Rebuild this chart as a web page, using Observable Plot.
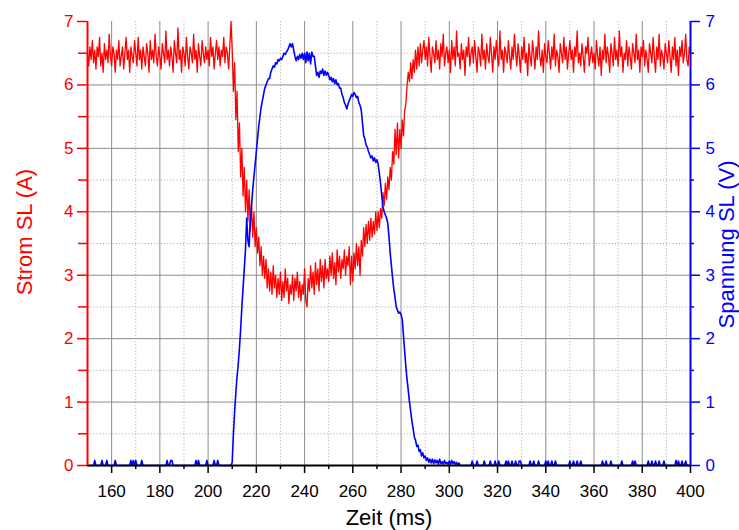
<!DOCTYPE html>
<html>
<head>
<meta charset="utf-8">
<script src="https://cdn.jsdelivr.net/npm/d3@7"></script>
<script src="https://cdn.jsdelivr.net/npm/@observablehq/plot@0.6"></script>
<style>
  html, body { margin: 0; padding: 0; background: #fff; }
  svg { display: block; }
</style>
</head>
<body>
<div id="chart"></div>
<script>
// Sampling: first sample at 150 ms, one sample every 0.5 ms
const tStart = 150;
const tStep = 0.5;

// Strom SL (A), red, one row per 10 ms
const strom = [
  6.5,6.3,6.6,6.4,6.7,6.35,6.55,6.25,6.6,6.45,6.75,6.3,6.5,6.2,6.65,6.4,6.55,6.35,6.8,6.45,
  6.3,6.6,6.5,6.2,6.55,6.4,6.7,6.3,6.45,6.6,6.25,6.5,6.75,6.4,6.55,6.2,6.6,6.45,6.35,6.7,
  6.5,6.3,6.75,6.4,6.55,6.25,6.6,6.45,6.3,6.65,6.5,6.2,6.7,6.4,6.55,6.35,6.8,6.45,6.3,6.6,
  6.45,6.25,6.65,6.5,6.35,6.85,6.4,6.55,6.3,6.6,6.45,6.2,6.7,6.5,6.35,6.9,6.4,6.55,6.2,6.6,
  6.5,6.3,6.75,6.45,6.25,6.6,6.5,6.35,6.8,6.4,6.55,6.2,6.65,6.45,6.3,6.7,6.5,6.35,6.6,6.4,
  6.55,6.3,6.75,6.45,6.6,6.25,6.5,6.7,6.4,6.6,6.3,6.55,6.45,6.75,6.35,6.6,6.5,6.25,6.6,7.0,
  6.55,5.9,6.35,5.45,5.9,4.95,5.4,4.55,5.0,4.25,4.7,4.0,4.5,3.85,4.35,3.7,4.15,3.6,4.0,3.45,
  3.75,3.35,3.6,3.15,3.45,3.0,3.3,2.95,3.25,2.8,3.1,2.75,3.05,2.7,3.15,2.8,3.0,2.65,2.95,2.7,
  3.05,2.6,2.9,2.65,3.1,2.75,2.95,2.55,2.85,2.7,3.0,2.6,2.95,2.75,3.05,2.65,2.9,2.6,2.85,2.7,
  3.1,2.6,2.5,2.95,2.75,3.15,2.8,3.05,2.7,3.2,2.85,3.1,2.75,3.25,2.9,3.15,2.8,3.25,2.95,3.1,
  2.9,3.3,3.0,3.35,2.95,3.2,2.85,3.4,3.05,3.3,2.95,3.25,3.1,3.4,3.0,3.3,3.15,3.45,2.85,3.3,
  2.9,3.35,3.1,3.5,3.15,3.45,3.0,3.55,3.3,3.75,3.45,3.8,3.5,3.85,3.55,3.9,3.6,3.85,3.65,4.0,
  3.7,4.0,3.75,4.05,3.9,4.3,4.1,4.45,4.2,4.55,4.35,4.7,4.5,4.95,4.75,5.3,4.9,5.4,4.85,5.3,
  5.0,5.45,5.2,5.6,5.7,6.0,6.2,6.05,6.35,6.1,6.4,6.2,6.55,6.25,6.6,6.3,6.65,6.35,6.55,6.7,
  6.4,6.6,6.3,6.75,6.45,6.2,6.6,6.5,6.35,6.7,6.4,6.55,6.25,6.65,6.45,6.8,6.3,6.5,6.6,6.35,
  6.55,6.2,6.7,6.4,6.6,6.3,6.85,6.45,6.5,6.25,6.65,6.4,6.55,6.15,6.6,6.45,6.75,6.3,6.5,6.6,
  6.35,6.7,6.45,6.2,6.6,6.5,6.3,6.8,6.4,6.55,6.25,6.65,6.45,6.35,6.75,6.5,6.2,6.6,6.4,6.7,
  6.45,6.3,6.85,6.4,6.55,6.2,6.6,6.5,6.35,6.7,6.45,6.25,6.6,6.4,6.8,6.5,6.3,6.65,6.45,6.2,
  6.6,6.4,6.75,6.35,6.5,6.15,6.65,6.45,6.3,6.7,6.5,6.25,6.6,6.4,6.85,6.45,6.3,6.55,6.2,6.65,
  6.45,6.35,6.7,6.5,6.25,6.6,6.4,6.8,6.3,6.55,6.45,6.2,6.65,6.5,6.35,6.75,6.4,6.6,6.25,6.5,
  6.7,6.4,6.55,6.2,6.6,6.45,6.85,6.35,6.5,6.3,6.65,6.45,6.2,6.6,6.5,6.75,6.3,6.45,6.6,6.35,
  6.5,6.25,6.7,6.45,6.3,6.6,6.15,6.55,6.4,6.8,6.35,6.6,6.45,6.2,6.65,6.5,6.3,6.75,6.4,6.55,
  6.3,6.85,6.45,6.6,6.2,6.5,6.4,6.7,6.3,6.6,6.45,6.25,6.65,6.5,6.35,6.8,6.4,6.55,6.2,6.6,
  6.45,6.7,6.3,6.55,6.4,6.2,6.65,6.5,6.35,6.75,6.45,6.2,6.6,6.4,6.8,6.3,6.55,6.45,6.25,6.65,
  6.5,6.35,6.7,6.45,6.2,6.6,6.4,6.75,6.3,6.55,6.15,6.6,6.45,6.7,6.35,6.5,6.8,6.4,6.3,6.6,
  6.5
];

// Spannung SL (V), blue, one row per 10 ms
const spannung = [
  0,0,0,0,0,0,0.08,0,0,0,0,0,0.08,0,0,0,0.08,0,0,0,
  0,0,0,0.08,0,0,0,0,0,0,0,0,0,0,0,0,0.08,0,0.08,0,
  0.08,0,0,0,0,0.08,0,0,0,0,0,0,0,0,0,0,0,0,0,0,
  0,0,0,0,0,0,0.08,0,0,0.08,0.08,0,0,0,0,0,0,0,0,0,
  0,0,0,0,0,0,0,0,0,0,0.08,0,0.08,0,0,0,0,0,0,0.08,
  0,0,0,0,0,0.08,0,0,0.08,0,0,0,0,0,0,0,0,0,0,0,
  0.05,0.5,0.85,1.15,1.4,1.6,1.85,2.15,2.5,2.8,3.1,3.4,3.9,3.55,3.45,3.85,4.1,4.35,4.55,4.75,
  4.95,5.15,5.35,5.5,5.65,5.75,5.85,5.95,6.0,6.05,6.1,6.1,6.2,6.25,6.3,6.28,6.35,6.33,6.4,6.38,
  6.42,6.4,6.45,6.5,6.48,6.52,6.55,6.6,6.65,6.6,6.65,6.55,6.45,6.38,6.45,6.4,6.48,6.42,6.5,6.4,
  6.5,6.35,6.52,6.38,6.5,6.33,6.52,6.45,6.45,6.3,6.15,6.2,6.12,6.22,6.18,6.25,6.15,6.22,6.15,6.2,
  6.15,6.08,6.12,6.05,6.1,6.02,6.08,6.0,6.02,5.95,5.95,5.85,5.8,5.72,5.68,5.62,5.7,5.75,5.8,5.85,
  5.82,5.88,5.85,5.8,5.82,5.72,5.68,5.6,5.4,5.2,5.15,5.05,5.02,4.95,4.9,4.85,4.88,4.8,4.85,4.78,
  4.82,4.75,4.6,4.45,4.25,4.08,4.0,3.95,3.9,3.82,3.6,3.35,3.15,2.95,2.78,2.65,2.5,2.45,2.4,2.42,
  2.38,2.3,2.05,1.8,1.55,1.35,1.18,1.0,0.85,0.7,0.58,0.45,0.4,0.3,0.32,0.22,0.25,0.15,0.2,0.12,
  0.15,0.08,0.12,0.05,0.1,0.04,0.1,0.03,0.09,0.04,0.08,0.02,0.1,0.03,0.06,0.02,0.08,0.03,0.05,0.02,
  0.07,0.02,0.08,0.03,0.06,0.02,0.05,0,0.04,0,0,0,0,0,0,0,0,0,0,0.07,
  0,0,0,0.07,0,0,0,0,0,0.07,0,0,0,0,0.07,0,0,0,0.07,0,
  0,0.07,0,0,0,0,0,0.07,0,0.07,0,0,0.07,0,0,0.07,0,0,0.07,0.07,
  0,0,0,0,0,0,0,0.07,0,0,0.07,0,0,0,0.07,0,0,0,0,0,
  0.07,0,0.07,0,0,0.07,0,0,0.07,0,0,0,0,0,0,0,0,0,0,0,
  0.07,0,0,0.07,0,0,0.07,0,0,0.07,0,0,0,0,0,0,0,0,0,0,
  0,0,0,0,0,0,0,0.07,0,0,0.07,0,0,0,0.07,0,0,0,0,0,
  0,0,0,0.07,0,0,0,0,0,0,0,0,0.07,0,0.07,0,0,0,0,0,
  0,0,0,0,0,0.07,0,0,0.07,0,0,0.07,0,0,0.07,0,0,0,0.07,0,
  0,0,0,0,0,0,0,0,0.08,0,0.07,0,0,0.07,0,0,0.07,0,0,0,
  0
];

// Axis ticks
const xTickLabels = [160, 180, 200, 220, 240, 260, 280, 300, 320, 340, 360, 380, 400];
const xMinorTicks = [170, 190, 210, 230, 250, 270, 290, 310, 330, 350, 370, 390];
const xGridMajor = [160, 180, 200, 220, 240, 260, 280, 300, 320, 340, 360, 380];
const xGridMinor = [170, 190, 210, 230, 250, 270, 290, 310, 330, 350, 370, 390];
const yTicks = [0, 1, 2, 3, 4, 5, 6, 7];
const yMinorTicks = [0.5, 1.5, 2.5, 3.5, 4.5, 5.5, 6.5];
const yGridMajor = [1, 2, 3, 4, 5, 6];

const xLabel = "Zeit (ms)";
const yLeftLabel = "Strom SL (A)";
const yRightLabel = "Spannung SL (V)";

const rows = strom.map((v, i) => ({ t: tStart + i * tStep, strom: v, spannung: spannung[i] }));

const font = "'Liberation Sans', Arial, Helvetica, sans-serif";
const intFmt = d3.format("d");

const chart = Plot.plot({
  width: 739,
  height: 530,
  marginLeft: 87,
  marginRight: 49,
  marginTop: 21,
  marginBottom: 65,
  x: { domain: [150, 400] },
  y: { domain: [0, 7] },
  style: { fontFamily: font, fontSize: "17px", background: "#fff", overflow: "visible" },
  marks: [
    // grid
    Plot.ruleX(xGridMinor, { stroke: "#b4b4b4", strokeWidth: 1, strokeDasharray: "1.2,2" }),
    Plot.ruleY(yMinorTicks, { stroke: "#b4b4b4", strokeWidth: 1, strokeDasharray: "1.2,2" }),
    Plot.ruleX(xGridMajor, { stroke: "#8c8c8c", strokeWidth: 1 }),
    Plot.ruleY(yGridMajor, { stroke: "#8c8c8c", strokeWidth: 1 }),
    // data
    Plot.line(rows, { x: "t", y: "strom", stroke: "#ff0000", strokeWidth: 1.3 }),
    Plot.line(rows, { x: "t", y: "spannung", stroke: "#0000ff", strokeWidth: 1.6 }),
    // axes
    Plot.axisX(xTickLabels, { tickSize: 8, tickPadding: 11, strokeWidth: 1.5, color: "black", label: null, fontSize: 17, tickFormat: intFmt }),
    Plot.axisX(xMinorTicks, { tickSize: 4, strokeWidth: 1.5, stroke: "black", fill: "none", label: null }),
    Plot.axisY(yTicks, { anchor: "left", tickSize: 10, tickPadding: 4, strokeWidth: 1.5, color: "#ff0000", label: null, fontSize: 17, tickFormat: intFmt }),
    Plot.axisY(yMinorTicks, { anchor: "left", tickSize: 9, strokeWidth: 1.5, stroke: "#ff0000", fill: "none", label: null }),
    Plot.axisY(yTicks, { anchor: "right", tickSize: 9, tickPadding: 6, strokeWidth: 1.5, color: "#0000ff", label: null, fontSize: 17, tickFormat: intFmt }),
    Plot.axisY(yMinorTicks, { anchor: "right", tickSize: 3, strokeWidth: 1.5, stroke: "#0000ff", fill: "none", label: null }),
    Plot.ruleY([0], { stroke: "black", strokeWidth: 1.8 }),
    Plot.ruleX([150], { stroke: "#ff0000", strokeWidth: 2 }),
    Plot.ruleX([400], { stroke: "#0000ff", strokeWidth: 2 }),
    // titles
    Plot.text([xLabel], { text: d => d, frameAnchor: "bottom", textAnchor: "middle", lineAnchor: "middle", dy: 52, fontSize: 22, fill: "black" }),
    Plot.text([yLeftLabel], { text: d => d, frameAnchor: "left", textAnchor: "middle", lineAnchor: "middle", rotate: -90, dx: -63, dy: -11.5, fontSize: 22, fill: "#ff0000" }),
    Plot.text([yRightLabel], { text: d => d, frameAnchor: "right", textAnchor: "middle", lineAnchor: "middle", rotate: -90, dx: 36, dy: 1, fontSize: 22, fill: "#0000ff" })
  ]
});

document.getElementById("chart").appendChild(chart);
</script>
</body>
</html>
